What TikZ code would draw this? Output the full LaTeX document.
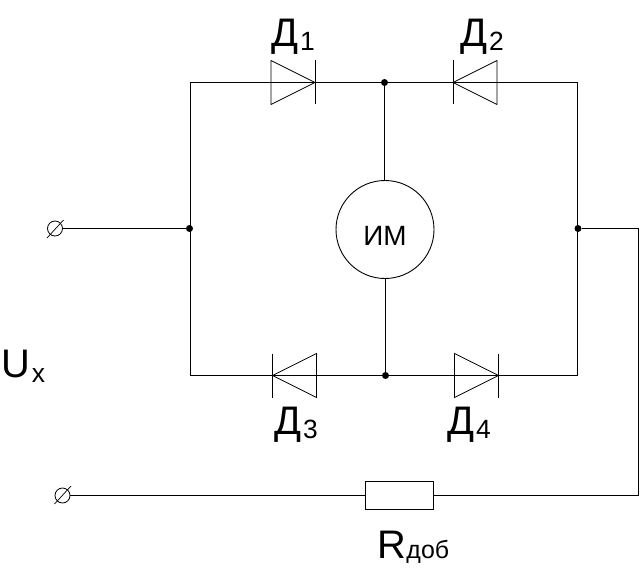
\documentclass[tikz,border=0pt]{standalone}
\usepackage{fontspec}
\setmainfont{Liberation Sans}
\newcommand{\bigt}{\fontsize{40}{40}\selectfont}
\newcommand{\subt}[2][4.5bp]{\hspace{1.5bp}\raisebox{-#1}{\fontsize{26.5}{26.5}\selectfont #2}}
\newcommand{\subr}[1]{{\fontsize{25}{25}\selectfont #1}}
\tikzset{
  wire/.style={draw=black,line width=1bp},
  thin wire/.style={draw=black,line width=0.8bp},
  junction/.style={circle,fill=black,inner sep=0pt,minimum size=7bp},
  terminal/.style={circle,draw=black,line width=0.8bp,fill=white,inner sep=0pt,minimum size=15bp},
  lab/.style={anchor=base west,inner sep=0pt,text=black},
  pt/.style={coordinate},
  diode/.pic={
    \draw[thin wire,line join=miter] (-22,-22) -- (22,0) -- (-22,22) -- cycle;
    \draw[thin wire] (22,-22) -- (22,22);
  }
}
\begin{document}
\begin{tikzpicture}[x=1bp,y=-1bp]
\useasboundingbox (0,0) rectangle (640,573);
\fill[white] (0,0) rectangle (640,573);
% corners and junctions
\node[pt] (tl) at (190.5,82.5) {};
\node[pt] (tr) at (577.5,82.5) {};
\node[pt] (bl) at (190.5,375.5) {};
\node[pt] (br) at (577.5,375.5) {};
\node[junction] (jt) at (384.5,82.5) {};
\node[junction] (jb) at (385.5,375.5) {};
\node[junction] (jl) at (189.5,228.5) {};
\node[junction] (jr) at (578,228.5) {};
\node[pt] (c1) at (638.5,228.5) {};
\node[pt] (c2) at (638.5,495.5) {};
% main elements
\node[circle,draw=black,line width=0.9bp,minimum size=98bp,inner sep=0pt] (im) at (385,229.5) {};
\node[anchor=base,inner sep=0pt,font=\fontsize{28}{28}\selectfont] (imt) at (385,245) {ИМ};
\node[draw=black,line width=1bp,minimum width=68.5bp,minimum height=28bp,inner sep=0pt] (r) at (399.5,495.5) {};
\node[terminal] (t1) at (55,228.5) {};
\node[terminal] (t2) at (62.5,495.5) {};
% wires
\draw[wire] (tl) -- (tr) -- (br) -- (bl) -- cycle;
\draw[wire] (jt) -- (jt |- im.north);
\draw[wire] (jb) -- (jb |- im.south);
\draw[wire] (t1) -- (jl);
\draw[wire] (jr) -- (c1) -- (c2) -- (r);
\draw[wire] (r) -- (t2);
% terminal slashes
\draw[line width=0.7bp] (47,238) -- (63.5,220);
\draw[line width=0.7bp] (54.5,504) -- (71,486);
% diodes
\pic at (293,82.5) {diode};
\pic[xscale=-1] at (475,82.5) {diode};
\pic[xscale=-1] at (294.5,375.5) {diode};
\pic at (476.5,375.5) {diode};
% labels
\node[lab] (l1) at (271.5,46.5) {\bigt Д\subt{1}};
\node[lab] (l2) at (460.5,46.5) {\bigt Д\subt{2}};
\node[lab] (l3) at (274.5,434) {\bigt Д\subt{3}};
\node[lab] (l4) at (447.5,434) {\bigt Д\subt{4}};
\node[lab] (lu) at (1.5,377) {\bigt U\subt[5.5bp]{x}};
\node[lab] (lr) at (377.5,558) {\bigt R\subr{доб}};
\end{tikzpicture}
\end{document}
